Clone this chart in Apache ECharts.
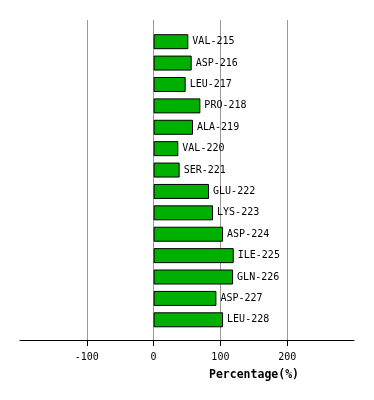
<!DOCTYPE html>
<html><head><meta charset="utf-8">
<script src="https://cdn.jsdelivr.net/npm/echarts@6/dist/echarts.min.js"></script>
<style>html,body{margin:0;padding:0;background:#fff}#c{width:374px;height:400px}</style>
</head><body><div id="c"></div>
<script>
const categories = ['VAL-215','ASP-216','LEU-217','PRO-218','ALA-219','VAL-220','SER-221','GLU-222','LYS-223','ASP-224','ILE-225','GLN-226','ASP-227','LEU-228'];
const values = [52, 57, 48, 70, 59, 37, 39, 83, 89, 104, 120, 119, 94, 104];
const tickValues = [-100, 0, 100, 200];
const axisTitle = 'Percentage(%)';

const FONT = 'DejaVu Sans Mono';
const chart = echarts.init(document.getElementById('c'), null, {renderer:'canvas'});
chart.setOption({
  animation: false,
  backgroundColor: '#fff',
  grid: [
    {left: 20, right: 20, top: 20, bottom: 60},
    {left: 20, right: 20, top: 31, bottom: 69.5}
  ],
  xAxis: [
    {gridIndex: 0, type: 'value', min: -200, max: 300, interval: 100,
     axisLine: {show: true, lineStyle: {color: '#000', width: 1}},
     axisTick: {show: true, length: 6, lineStyle: {color: '#000'}, customValues: tickValues},
     axisLabel: {color: '#000', fontFamily: FONT, fontSize: 10, margin: 12, customValues: tickValues},
     splitLine: {show: true, lineStyle: {color: '#999', width: 1}}},
    {gridIndex: 1, type: 'value', min: -200, max: 300, show: false, splitLine: {show: false}}
  ],
  yAxis: [
    {gridIndex: 0, type: 'category', data: categories, show: false},
    {gridIndex: 1, type: 'category', data: categories, inverse: true, show: false}
  ],
  graphic: [{type: 'text', left: 209, top: 369,
    style: {text: axisTitle, font: 'bold 11.5px "DejaVu Sans Mono"', fill: '#000'}}],
  series: [{
    type: 'bar', xAxisIndex: 1, yAxisIndex: 1, data: values, barWidth: 15,
    itemStyle: {color: '#00b000', borderColor: '#000', borderWidth: 1},
    label: {show: true, position: 'right', distance: 4, formatter: '{b}', color: '#000', fontFamily: FONT, fontSize: 10}
  }]
});
</script></body></html>
